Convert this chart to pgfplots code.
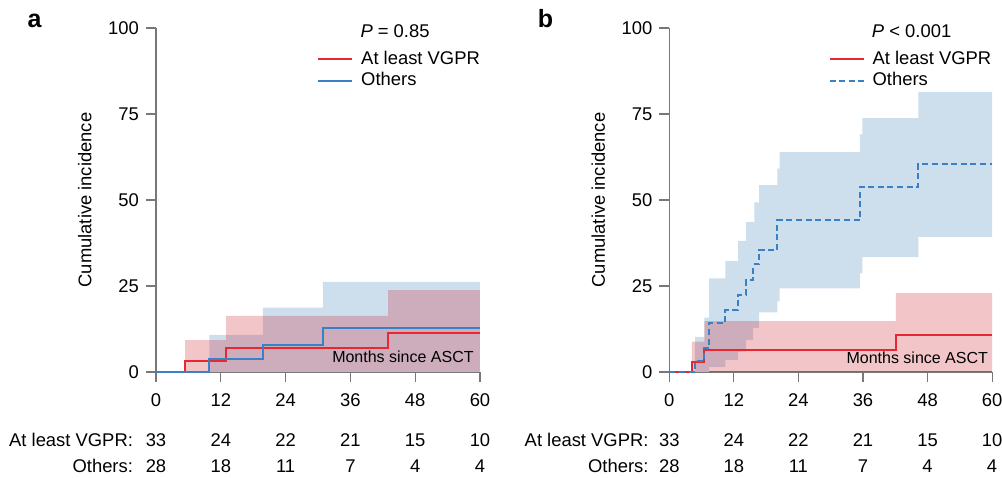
\documentclass[border=0pt]{standalone}
\usepackage{fontspec}
\setmainfont{Liberation Sans}
\usepackage{pgfplots}
\pgfplotsset{compat=1.18}
\usepgfplotslibrary{fillbetween}

\definecolor{kmred}{RGB}{232,40,48}
\definecolor{kmblue}{RGB}{58,128,196}
\definecolor{bandblue}{RGB}{205,222,237}
\definecolor{bandred}{RGB}{205,36,44}
\definecolor{axgray}{RGB}{120,120,120}
\newcommand\fs{\fontsize{9.2}{11}\selectfont}
\newcommand\fss{\fontsize{8}{10}\selectfont}

\pgfplotsset{km/.style={
    scale only axis, height=172pt,
    xmin=0, xmax=60, ymin=0, ymax=100,
    enlargelimits=false, clip=false,
    axis lines=left,
    axis line style={-, draw=axgray, line width=0.6pt},
    tick style={draw=axgray, line width=0.6pt},
    tick align=outside, major tick length=5pt,
    xtick={0,12,...,60}, ytick={0,25,50,75,100},
    tick label style={font=\fs},
    xticklabel style={yshift=-2.5pt},
    /pgf/number format/assume math mode=true,
    label style={font=\fs},
    ylabel={Cumulative incidence},
    ylabel style={at={(axis description cs:-0.22,0.5)}, anchor=center},
    legend style={draw=none, fill=none, font=\fs, anchor=north west,
        inner sep=0pt, row sep=-1.5pt,
        /tikz/every odd column/.append style={column sep=2pt}},
    legend cell align=left,
    anchor=south west,
}}

\begin{document}
\begin{tikzpicture}
\node[font=\fontsize{12.5}{14}\selectfont\bfseries, anchor=base] at (17.25pt,224.5pt) {a};
\node[font=\fontsize{12.5}{14}\selectfont\bfseries, anchor=base] at (272.75pt,224.5pt) {b};

% ---------- panel a ----------
\begin{axis}[km, width=162pt, at={(78pt,52.5pt)},
    legend style={at={(0.496,0.945)}}]
\addplot[name path=bu, draw=none, const plot, forget plot] coordinates {
    (9.9,10.8)(19.8,18.7)(30.9,26.2)(60,26.2)};
\addplot[name path=bl, draw=none, const plot, forget plot] coordinates {
    (9.9,0)(60,0)};
\addplot[fill=bandblue, draw=none, forget plot] fill between[of=bu and bl];
\addplot[name path=ru, draw=none, const plot, forget plot] coordinates {
    (5.4,9.3)(13,16.3)(43,23.8)(60,23.8)};
\addplot[name path=rl, draw=none, const plot, forget plot] coordinates {
    (5.4,0)(60,0)};
\addplot[fill=bandred, fill opacity=0.26, draw=none, forget plot] fill between[of=ru and rl];

\addplot[kmred, line width=1pt, const plot] coordinates {
    (0,0)(5.4,3.3)(13,7.0)(43,11.4)(60,11.4)};
\addplot[kmblue, line width=1pt, const plot] coordinates {
    (0,0)(9.9,3.7)(19.8,7.9)(30.9,12.7)(60,12.7)};
\legend{At least VGPR, Others}

\node[anchor=west, inner sep=0pt, font=\fs] at (axis cs:37.8,99) {\textit{P} = 0.85};
\node[anchor=east, inner sep=0pt, font=\fss] at (axis cs:58.9,4.3) {Months since ASCT};

\node[anchor=east, inner sep=0pt, font=\fs] at (axis cs:-4.2,-19.8) {At least VGPR:};
\node[anchor=east, inner sep=0pt, font=\fs] at (axis cs:-4.2,-27.3) {Others:};
\node[font=\fs] at (axis cs:0,-19.8) {33};
\node[font=\fs] at (axis cs:12,-19.8) {24};
\node[font=\fs] at (axis cs:24,-19.8) {22};
\node[font=\fs] at (axis cs:36,-19.8) {21};
\node[font=\fs] at (axis cs:48,-19.8) {15};
\node[font=\fs] at (axis cs:60,-19.8) {10};
\node[font=\fs] at (axis cs:0,-27.3) {28};
\node[font=\fs] at (axis cs:12,-27.3) {18};
\node[font=\fs] at (axis cs:24,-27.3) {11};
\node[font=\fs] at (axis cs:36,-27.3) {7};
\node[font=\fs] at (axis cs:48,-27.3) {4};
\node[font=\fs] at (axis cs:60,-27.3) {4};
\end{axis}

% ---------- panel b ----------
\begin{axis}[km, width=161.4pt, at={(334.65pt,52.5pt)},
    legend style={at={(0.492,0.945)}}]
\addplot[name path=bu, draw=none, const plot, forget plot] coordinates {
    (4.8,10.2)(6.5,15.8)(7.4,27.2)(10.4,32.2)(12.8,38.1)(14.3,43.6)
    (15.8,49.3)(16.7,54.3)(20.1,59.1)(20.5,63.9)(35.4,69.1)(35.9,73.8)
    (46.3,81.4)(60,81.4)};
\addplot[name path=bl, draw=none, const plot, forget plot] coordinates {
    (4.8,0)(7.4,1.5)(10.4,3.5)(12.8,5.9)(14.3,9.3)(15.6,12.8)(16.7,17.3)
    (20.1,20.5)(20.5,24.3)(35.4,28.7)(35.9,33.4)(46.3,39.3)(60,39.3)};
\addplot[fill=bandblue, draw=none, forget plot] fill between[of=bu and bl];
\addplot[name path=ru, draw=none, const plot, forget plot] coordinates {
    (4.2,8.8)(6.5,14.8)(42.1,22.9)(60,22.9)};
\addplot[name path=rl, draw=none, const plot, forget plot] coordinates {
    (4.2,0)(60,0)};
\addplot[fill=bandred, fill opacity=0.26, draw=none, forget plot] fill between[of=ru and rl];

\addplot[kmred, line width=1pt, const plot] coordinates {
    (0,0)(4.2,2.9)(6.5,6.4)(42.1,10.7)(60,10.7)};
\addplot[kmblue, line width=1pt, const plot, dash pattern=on 3pt off 1.8pt] coordinates {
    (0,0)(4.8,3.2)(6.5,7.0)(7.4,14.1)(10.4,18.0)(12.8,22.4)(14.3,26.7)
    (15.6,31.3)(16.7,35.4)(20.1,44.1)(35.4,53.8)(46.3,60.4)(60,60.4)};
\legend{At least VGPR, Others}

\node[anchor=west, inner sep=0pt, font=\fs] at (axis cs:37.6,99) {\textit{P} < 0.001};
\node[anchor=east, inner sep=0pt, font=\fss] at (axis cs:59.3,4.0) {Months since ASCT};

\node[anchor=east, inner sep=0pt, font=\fs] at (axis cs:-3.8,-19.8) {At least VGPR:};
\node[anchor=east, inner sep=0pt, font=\fs] at (axis cs:-3.8,-27.3) {Others:};
\node[font=\fs] at (axis cs:0,-19.8) {33};
\node[font=\fs] at (axis cs:12,-19.8) {24};
\node[font=\fs] at (axis cs:24,-19.8) {22};
\node[font=\fs] at (axis cs:36,-19.8) {21};
\node[font=\fs] at (axis cs:48,-19.8) {15};
\node[font=\fs] at (axis cs:60,-19.8) {10};
\node[font=\fs] at (axis cs:0,-27.3) {28};
\node[font=\fs] at (axis cs:12,-27.3) {18};
\node[font=\fs] at (axis cs:24,-27.3) {11};
\node[font=\fs] at (axis cs:36,-27.3) {7};
\node[font=\fs] at (axis cs:48,-27.3) {4};
\node[font=\fs] at (axis cs:60,-27.3) {4};
\end{axis}

\pgfresetboundingbox
\path[use as bounding box] (0,0) rectangle (501pt,238.5pt);
\end{tikzpicture}
\end{document}
